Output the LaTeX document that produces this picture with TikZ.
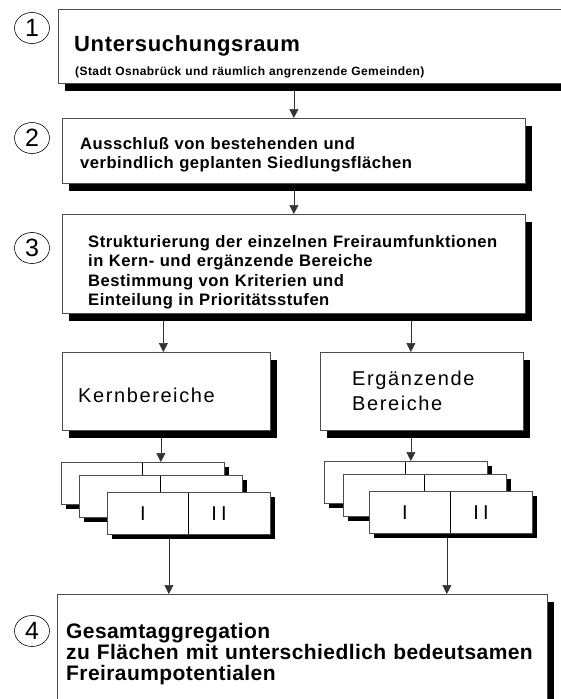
\documentclass[tikz,border=0pt]{standalone}
\usepackage{fontspec}
\setmainfont{Liberation Sans}
\usetikzlibrary{arrows.meta,shapes.geometric,shadows,backgrounds,positioning}

\newcommand{\titlefnt}{\fontsize{22}{24}\selectfont\bfseries\addfontfeatures{LetterSpace=3}}
\newcommand{\notefnt}{\fontsize{12}{14}\selectfont\bfseries\addfontfeatures{LetterSpace=3.5}}
\newcommand{\stepfnt}{\fontsize{16.6}{19.5}\selectfont\bfseries\addfontfeatures{LetterSpace=3}}
\newcommand{\areafnt}{\fontsize{20}{25}\selectfont\addfontfeatures{LetterSpace=8}}
\newcommand{\finalfnt}{\fontsize{21}{21}\selectfont\bfseries\addfontfeatures{LetterSpace=2}}

\tikzset{
  stepbox/.style={draw=black!70, line width=0.7pt, fill=white, anchor=north west, inner sep=0pt,
    drop shadow={shadow xshift=7pt, shadow yshift=-8pt, fill=black, opacity=1}},
  stackbox/.style={draw=black!70, line width=0.7pt, fill=white, anchor=north west, inner sep=0pt,
    minimum width=163pt, minimum height=42pt,
    drop shadow={shadow xshift=5pt, shadow yshift=-5pt, fill=black, opacity=1},
    path picture={\draw[black, line width=0.9pt] (path picture bounding box.north) -- (path picture bounding box.south);}},
  stepnum/.style={ellipse, draw, line width=0.6pt, minimum width=35pt, minimum height=31pt,
    inner sep=0pt, font=\fontsize{25}{25}\selectfont},
  steptext/.style={anchor=base west, inner sep=0pt, align=left, text width=480pt},
  stacklabel/.style={inner sep=0pt, font=\fontsize{20}{20}\selectfont\addfontfeatures{LetterSpace=20}},
  flow/.style={->, line width=0.7pt, black!80}
}

\begin{document}
\begin{tikzpicture}[x=1pt, y=-1pt, >={Triangle[width=9pt,length=9pt]}]
  \path[use as bounding box, clip] (0,0) rectangle (561,699);

  \node[stepnum] (n1) at (32,28) {1};
  \node[stepnum] (n2) at (32,138) {2};
  \node[stepnum] (n3) at (32,248) {3};
  \node[stepnum] (n4) at (32,631) {4};

  \node[stepbox, minimum width=560pt, minimum height=74pt] (b1) at (58,9) {};
  \node[stepbox, minimum width=463pt, minimum height=65pt] (b2) at (62,118) {};
  \node[stepbox, minimum width=463pt, minimum height=99pt] (b3) at (62,214) {};
  \node[stepbox, minimum width=208pt, minimum height=78pt] (kern) at (62,352) {};
  \node[stepbox, minimum width=203pt, minimum height=78pt] (erg) at (320,352) {};

  \node[stackbox] (k1) at (61,462) {};
  \node[stackbox] (k2) at (79,475) {};
  \node[stackbox] (k3) at (107,492) {};
  \node[stackbox] (e1) at (324,461) {};
  \node[stackbox] (e2) at (343,474) {};
  \node[stackbox] (e3) at (369,491) {};

  \node[stepbox, minimum width=490pt, minimum height=140pt] (b4) at (57,594) {};

  \node[steptext, font=\titlefnt] (t1) at (74,51) {Untersuchungsraum};
  \node[steptext, font=\notefnt] (t1n) at (75,75) {(Stadt Osnabrück und räumlich angrenzende Gemeinden)};
  \node[steptext, font=\stepfnt] (t2) at (80,149) {Ausschluß von bestehenden und\\verbindlich geplanten Siedlungsflächen};
  \node[steptext, font=\stepfnt] (t3) at (88,247) {Strukturierung der einzelnen Freiraumfunktionen\\in Kern- und ergänzende Bereiche\\Bestimmung von Kriterien und\\Einteilung in Prioritätsstufen};
  \node[steptext, font=\areafnt] (tk) at (78,402) {Kernbereiche};
  \node[steptext, font=\areafnt, text width=160pt] (te) at (352,385) {Ergänzende\\Bereiche};
  \node[steptext, font=\finalfnt] (t4) at (66,638) {Gesamtaggregation\\zu Flächen mit unterschiedlich bedeutsamen\\Freiraumpotentialen};

  \node[stacklabel] (k3a) at ([xshift=36pt]k3.west) {I};
  \node[stacklabel] (k3b) at ([xshift=112pt]k3.west) {II};
  \node[stacklabel] (e3a) at ([xshift=36pt]e3.west) {I};
  \node[stacklabel] (e3b) at ([xshift=112pt]e3.west) {II};

  \begin{scope}[on background layer]
    \draw[flow] (b2.north |- b1.south) -- (b2.north);
    \draw[flow] (b2.south) -- (b2.south |- b3.north);
    \draw[flow] ([xshift=-3pt]kern.north |- b3.south) -- ([xshift=-3pt]kern.north);
    \draw[flow] ([xshift=-11pt]erg.north |- b3.south) -- ([xshift=-11pt]erg.north);
    \draw[flow] (k2.north |- kern.south) -- (k2.north |- k1.north);
    \draw[flow] ([xshift=-11pt]erg.south) -- ([xshift=-11pt]erg.south |- e1.north);
    \draw[flow] ([xshift=-20pt]k3.south) -- ([xshift=-20pt]k3.south |- b4.north);
    \draw[flow] ([xshift=-4pt]e3.south) -- ([xshift=-4pt]e3.south |- b4.north);
  \end{scope}
\end{tikzpicture}
\end{document}
